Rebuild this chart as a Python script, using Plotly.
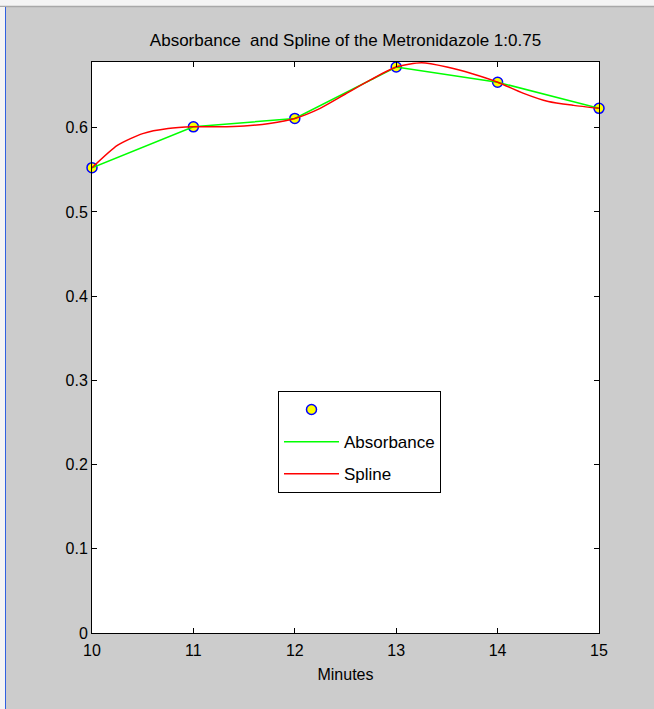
import plotly.graph_objects as go

# Measured absorbance over time
minutes = [10, 11, 12, 13, 14, 15]
absorbance = [0.5525, 0.601, 0.611, 0.672, 0.654, 0.623]

# Smoothed spline curve, sampled every quarter minute
spline_minutes = [10, 10.25, 10.5, 10.75, 11, 11.25, 11.5, 11.75, 12, 12.25, 12.5,
                  12.75, 13, 13.25, 13.5, 13.75, 14, 14.25, 14.5, 14.75, 15]
spline_values = [0.5525, 0.579, 0.593, 0.599, 0.601, 0.601, 0.602, 0.605, 0.611, 0.623,
                 0.640, 0.657, 0.672, 0.677, 0.672, 0.664, 0.654, 0.641, 0.631, 0.6265, 0.623]

x_ticks = [10, 11, 12, 13, 14, 15]
y_ticks = [0, 0.1, 0.2, 0.3, 0.4, 0.5, 0.6]

W, H = 654, 709
L, R, T, B = 92, 55, 62, 76
PW, PH = W - L - R, H - T - B

def px(x):
    return (x - L) / PW

def py(y):
    return (H - B - y) / PH

FONT = "Liberation Sans, Arial, sans-serif"
BG = "#cccccc"

fig = go.Figure()

fig.add_trace(go.Scatter(
    x=minutes, y=absorbance, mode="markers", name="",
    marker=dict(symbol="circle", size=10, color="#ffff00",
                line=dict(color="#0000ff", width=1.5)),
    cliponaxis=False, legendgroup="a",
))
fig.add_trace(go.Scatter(
    x=minutes, y=absorbance, mode="lines", name="Absorbance",
    line=dict(color="#00ff00", width=1.5), legendgroup="b",
))
fig.add_trace(go.Scatter(
    x=spline_minutes, y=spline_values, mode="lines", name="Spline",
    line=dict(color="#ff0000", width=1.5, shape="spline", smoothing=0.6),
    legendgroup="c",
))

axis_common = dict(
    showline=True, linecolor="black", linewidth=1, mirror="ticks",
    ticks="inside", ticklen=5, tickcolor="black", tickwidth=1,
    showgrid=False, zeroline=False,
    tickfont=dict(family=FONT, size=16, color="black"),
)

fig.update_xaxes(range=[10, 15], tickvals=x_ticks, ticklabelstandoff=3,
                 title=dict(text="Minutes", font=dict(family=FONT, size=16, color="black"),
                            standoff=10),
                 **axis_common)
fig.update_yaxes(range=[0, 0.678], tickvals=y_ticks, **axis_common)

# Window frame: light strips along the top and left edges
frame = [
    dict(type="rect", xref="paper", yref="paper", x0=px(0), x1=px(W), y0=py(0), y1=py(6),
         fillcolor="#f4f4f4", line=dict(width=0), layer="below"),
    dict(type="line", xref="paper", yref="paper", x0=px(0), x1=px(W), y0=py(6.5), y1=py(6.5),
         line=dict(color="#a8a8a8", width=1.5), layer="below"),
    dict(type="rect", xref="paper", yref="paper", x0=px(0), x1=px(5), y0=py(7), y1=py(H),
         fillcolor="#f4f4f4", line=dict(width=0), layer="below"),
    dict(type="line", xref="paper", yref="paper", x0=px(5.5), x1=px(5.5), y0=py(7), y1=py(H),
         line=dict(color="#3060e0", width=1), layer="below"),
]

fig.update_layout(
    width=W, height=H,
    margin=dict(l=L, r=R, t=T, b=B),
    paper_bgcolor=BG, plot_bgcolor="white",
    shapes=frame,
    title=dict(text="Absorbance  and Spline of the Metronidazole 1:0.75",
               x=345.5 / W, xanchor="center",
               y=1 - 40 / H, yanchor="middle",
               font=dict(family=FONT, size=17, color="black")),
    legend=dict(x=px(278), y=py(391), xanchor="left", yanchor="top",
                bgcolor="white", bordercolor="black", borderwidth=1,
                font=dict(family=FONT, size=17, color="black"),
                itemwidth=55,
                tracegroupgap=7, traceorder="grouped"),
    showlegend=True,
)

fig.write_html("out.html", config={"displayModeBar": False})
